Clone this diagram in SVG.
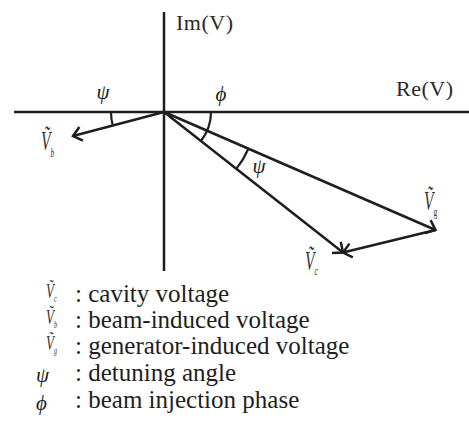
<svg xmlns="http://www.w3.org/2000/svg" width="469" height="425" viewBox="0 0 469 425">
<style>
.ln{fill:none;stroke:#1e1e1e;stroke-width:2.5;stroke-linecap:butt}
.arc{fill:none;stroke:#1e1e1e;stroke-width:2.2}
.ax{font-family:"Liberation Serif",serif;font-size:22px;fill:#2a2a2a;letter-spacing:0.5px}
.gr{font-family:"Liberation Serif",serif;font-style:italic;font-size:21px;fill:#1e1e1e}
.vec{font-family:"Liberation Serif","DejaVu Serif",serif;font-style:italic;font-size:27px;fill:#333}
.lv{font-family:"Liberation Serif","DejaVu Serif",serif;font-style:italic;font-size:21px;fill:#333}
.sub{font-size:13px}
.ls{font-size:10px}
.lg{font-family:"Liberation Serif",serif;font-size:25px;fill:#1e1e1e}
</style>
<defs>
<marker id="ah" markerUnits="userSpaceOnUse" markerWidth="24" markerHeight="24" refX="0" refY="0" orient="auto" viewBox="-12 -12 24 24" overflow="visible">
<path d="M-8.4,-7.1 L0,0 L-8.4,7.1" fill="none" stroke="#1e1e1e" stroke-width="2.5"/>
</marker>
</defs>
<g id="axes">
<line class="ln" x1="164" y1="12" x2="164" y2="271"/>
<line class="ln" x1="14" y1="112" x2="469" y2="112"/>
<text class="ax" x="176" y="30">Im(V)</text>
<text class="ax" x="396" y="96">Re(V)</text>
</g>
<g id="connectors">
<path class="ln" d="M164,112 L73,136" marker-end="url(#ah)"/>
<path class="ln" d="M164,112 L435.5,230" marker-end="url(#ah)"/>
<path class="ln" d="M164,112 L343,252.5" marker-end="url(#ah)"/>
<path class="ln" d="M435.5,230 L343,252.5" marker-end="url(#ah)"/>
</g>
<g id="angles">
<path class="arc" d="M111,112 A53,53 0 0 0 112.75,125.5"/>
<path class="arc" d="M211,112 A47,47 0 0 1 200.9,141"/>
<path class="arc" d="M248.4,148.7 A92,92 0 0 1 236.3,168.9"/>
<text class="gr" x="103" y="99" text-anchor="middle">ψ</text>
<text class="gr" x="221" y="101" text-anchor="middle">ϕ</text>
<text class="gr" x="259" y="173" text-anchor="middle">ψ</text>
</g>
<g id="node-Vb">
<text class="vec" transform="translate(41,150) scale(0.58,1)">Ṽ<tspan class="sub" dy="7">b</tspan></text>
</g>
<g id="node-Vg">
<text class="vec" transform="translate(424,210) scale(0.58,1)">Ṽ<tspan class="sub" dy="6" font-style="normal">g</tspan></text>
</g>
<g id="node-Vc">
<text class="vec" transform="translate(305,270) scale(0.58,1)">Ṽ<tspan class="sub" dy="5">c</tspan></text>
</g>
<g id="legend">
<text class="lv" transform="translate(46,298) scale(0.62,1)">Ṽ<tspan class="ls" dy="4">c</tspan></text>
<text class="lg" x="75" y="302">: cavity voltage</text>
<text class="lv" transform="translate(46,324) scale(0.62,1)">Ṽ<tspan class="ls" dy="4">b</tspan></text>
<text class="lg" x="75" y="328">: beam-induced voltage</text>
<text class="lv" transform="translate(46,350) scale(0.62,1)">Ṽ<tspan class="ls" dy="4">g</tspan></text>
<text class="lg" x="75" y="354">: generator-induced voltage</text>
<text class="gr" x="36" y="382">ψ</text>
<text class="lg" x="75" y="381">: detuning angle</text>
<text class="gr" x="36" y="410">ϕ</text>
<text class="lg" x="75" y="408">: beam injection phase</text>
</g>
</svg>
